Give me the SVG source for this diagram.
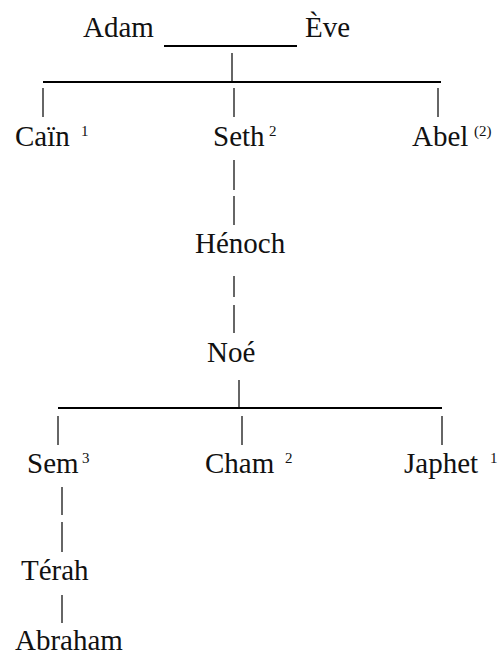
<svg xmlns="http://www.w3.org/2000/svg" width="498" height="655" viewBox="0 0 498 655">
  <style>
    .name { font-size: 29px; fill: #111; }
    .sup { font-size: 15px; fill: #111; }
    .bar { stroke: #000; stroke-width: 2; fill: none; }
    .tick { stroke: #333; stroke-width: 1.5; fill: none; }
  </style>
  <rect width="498" height="655" fill="#fff"/>

  <g id="connectors">
    <!-- marriage line and descent -->
    <line class="bar" x1="164" y1="46" x2="297" y2="46"/>
    <line class="tick" x1="232" y1="53" x2="232" y2="81"/>
    <line class="bar" x1="43" y1="82" x2="441" y2="82"/>
    <line class="tick" x1="43" y1="88" x2="43" y2="117"/>
    <line class="tick" x1="234" y1="88" x2="234" y2="117"/>
    <line class="tick" x1="438" y1="88" x2="438" y2="117"/>
    <!-- Seth to Hénoch to Noé -->
    <line class="tick" x1="234" y1="160" x2="234" y2="190"/>
    <line class="tick" x1="234" y1="196" x2="234" y2="225"/>
    <line class="tick" x1="234" y1="276" x2="234" y2="297"/>
    <line class="tick" x1="234" y1="305" x2="234" y2="333"/>
    <!-- sons of Noé -->
    <line class="tick" x1="239" y1="380" x2="239" y2="408"/>
    <line class="bar" x1="58" y1="408" x2="442" y2="408"/>
    <line class="tick" x1="58" y1="416" x2="58" y2="445"/>
    <line class="tick" x1="242" y1="416" x2="242" y2="445"/>
    <line class="tick" x1="442" y1="416" x2="442" y2="445"/>
    <!-- Sem to Térah to Abraham -->
    <line class="tick" x1="62" y1="487" x2="62" y2="515"/>
    <line class="tick" x1="62" y1="522" x2="62" y2="552"/>
    <line class="tick" x1="62" y1="595" x2="62" y2="623"/>
  </g>

  <g font-family="Liberation Serif, serif">
    <g id="adam"><text class="name" font-family="Liberation Serif, serif" x="83" y="37">Adam</text></g>
    <g id="eve"><text class="name" font-family="Liberation Serif, serif" x="305" y="37">Ève</text></g>

    <g id="cain">
      <text class="name" font-family="Liberation Serif, serif" x="15" y="146">Caïn</text>
      <text class="sup" font-family="Liberation Serif, serif" x="81" y="136">1</text>
    </g>
    <g id="seth">
      <text class="name" font-family="Liberation Serif, serif" x="213" y="146">Seth</text>
      <text class="sup" font-family="Liberation Serif, serif" x="269" y="136">2</text>
    </g>
    <g id="abel">
      <text class="name" font-family="Liberation Serif, serif" font-size="27" x="412" y="146">Abel</text>
      <text class="sup" font-family="Liberation Serif, serif" x="474" y="136">(2)</text>
    </g>

    <g id="henoch"><text class="name" font-family="Liberation Serif, serif" font-size="30" x="195" y="253">Hénoch</text></g>
    <g id="noe"><text class="name" font-family="Liberation Serif, serif" x="207" y="362">Noé</text></g>

    <g id="sem">
      <text class="name" font-family="Liberation Serif, serif" x="27" y="473">Sem</text>
      <text class="sup" font-family="Liberation Serif, serif" x="82" y="463">3</text>
    </g>
    <g id="cham">
      <text class="name" font-family="Liberation Serif, serif" x="205" y="473">Cham</text>
      <text class="sup" font-family="Liberation Serif, serif" x="285" y="463">2</text>
    </g>
    <g id="japhet">
      <text class="name" font-family="Liberation Serif, serif" x="404" y="473">Japhet</text>
      <text class="sup" font-family="Liberation Serif, serif" x="490" y="463">1</text>
    </g>

    <g id="terah"><text class="name" font-family="Liberation Serif, serif" x="21" y="580">Térah</text></g>
    <g id="abraham"><text class="name" font-family="Liberation Serif, serif" x="15" y="650">Abraham</text></g>
  </g>
</svg>
